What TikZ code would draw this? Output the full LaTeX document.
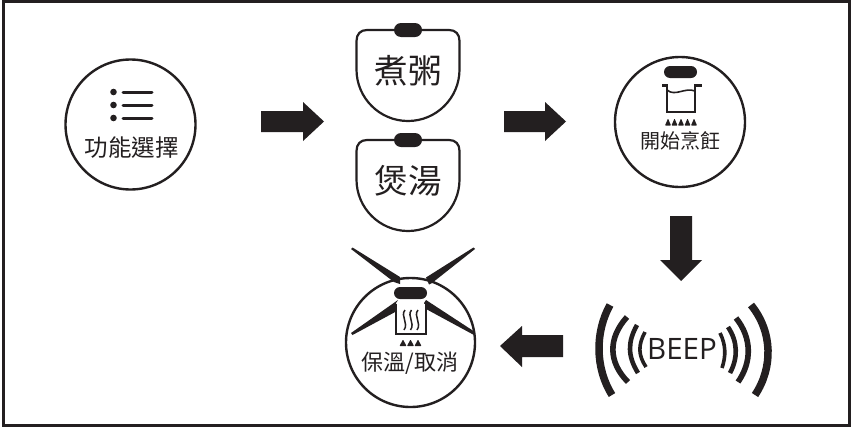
\documentclass[tikz,border=0pt]{standalone}
\usepackage{fontspec}
\setmainfont{Noto Sans CJK TC}
\newfontfamily\latinf{Open Sans}
\definecolor{ink}{HTML}{231F20}
\begin{document}
\begin{tikzpicture}[x=1pt,y=-1pt,
  disc/.style={draw=ink,line width=2.4pt,fill=white,circle,inner sep=0pt},
  fat/.style={fill=ink,draw=none},
  pillshape/.style={fill=ink,rounded corners=6pt},
  lab/.style={inner sep=0pt,text=ink,font=\fontsize{23.5}{24}\selectfont},
  big/.style={inner sep=0pt,text=ink,font=\fontsize{33.5}{34}\selectfont},
  wave/.style={draw=ink,line cap=butt},
  flame/.style={fill=ink,rounded corners=0.6pt}]
\useasboundingbox (0,0) rectangle (853,429);
\fill[white] (0,0) rectangle (853,429);
\draw[ink,line width=3pt] (3.5,1.5) rectangle (849.5,425.5);
% step 1
\node[disc,minimum size=130pt] (c1) at (130.5,124.5) {};
\foreach \y in {92,105,118}{
  \fill[ink] (113.5,\y) circle (3.3pt);
  \draw[ink,line width=3pt,line cap=round] (123,\y) -- (152,\y);}
\node[lab] (t1) at (131.5,148) {功能選擇};
% arrows
\path[fat] (261,111) -- (303,111) -- (303,102) -- (324,121.5) -- (303,141) -- (303,132) -- (261,132) -- cycle;
\path[fat] (504,111) -- (545,111) -- (545,102) -- (566,121.5) -- (545,141) -- (545,132) -- (504,132) -- cycle;
\path[fat] (670,216) -- (692,216) -- (692,260) -- (702,260) -- (681,281) -- (660,260) -- (670,260) -- cycle;
\path[fat] (563,335) -- (522,335) -- (522,326) -- (500,346) -- (522,367) -- (522,357) -- (563,357) -- cycle;
% shields
\foreach \t in {0,110}{
  \begin{scope}[yshift=-\t pt]
  \draw[ink,line width=2.2pt,fill=white] (408,30) -- (367,30) .. controls (360.5,30) and (356.5,34) .. (356.5,41) -- (356.5,69.5) .. controls (356.5,97.9) and (379.6,121) .. (408,121) .. controls (436.4,121) and (459.5,97.9) .. (459.5,69.5) -- (459.5,41) .. controls (459.5,34) and (455.5,30) .. (449,30) -- cycle;
  \fill[pillshape,rounded corners=7pt] (394,23) rectangle (422,37);
  \end{scope}}
\node[big] (s1) at (408,70.5) {煮粥};
\node[big] (s2) at (408,180.5) {煲湯};
% step 3
\node[disc,minimum size=130pt] (c3) at (680,122) {};
\fill[pillshape] (664,66) rectangle (697,78);
\draw[ink,line width=2.6pt] (662,85.5) -- (667,85.5) -- (667,112) -- (695,112) -- (695,85.5) -- (701.5,85.5);
\draw[ink,line width=1.6pt] (667,90) .. controls (675,97) and (685,87) .. (695,91);
\foreach \x in {668,674.5,681,687.5,694}
  \fill[flame] (\x,118.5) -- (\x-3,125.5) -- (\x+3,125.5) -- cycle;
\node[lab,font=\fontsize{20}{20}\selectfont] (t3) at (680,141) {開始烹飪};
% beep
\node[inner sep=0pt,text=ink,font=\latinf\fontsize{29.5}{30}\selectfont] (b) at (682,349) {BEEP};
\draw[wave,line width=3.6pt] (645,332) .. controls (638,345) and (638,355) .. (646,367);
\draw[wave,line width=4.6pt] (637,325) .. controls (627.5,342) and (627.5,356) .. (638,373);
\draw[wave,line width=5.6pt] (627,317) .. controls (608,338) and (608,362) .. (628,382);
\draw[wave,line width=7.5pt] (610,305) .. controls (595,332) and (595,368) .. (612,395);
\draw[wave,line width=3.6pt] (720,333) .. controls (726,345) and (726,356) .. (722,368);
\draw[wave,line width=4.6pt] (728,327) .. controls (738,342) and (738,358) .. (730,373);
\draw[wave,line width=5.6pt] (736,318) .. controls (752,338) and (752,362) .. (738,382);
\draw[wave,line width=7.5pt] (751,305) .. controls (773,332) and (773,368) .. (755,395);
% step 4
\node[disc,minimum size=129pt] (c4) at (410.5,342.5) {};
\fill[ink] (351,249) -- (352.5,247.5) -- (400,277) -- (400,284) -- (394,282) -- cycle;
\fill[ink] (475,249) -- (473.5,247.5) -- (426,277.5) -- (429,284.5) -- (432,283) -- cycle;
\fill[ink] (351,333) -- (352.5,335) -- (397,311) -- (396,303) -- (398,300) -- cycle;
\fill[ink] (475,332) -- (474,335) -- (426,309) -- (424,303) -- (426,300) -- cycle;
\fill[pillshape] (394,287) rectangle (427,299);
\draw[ink,line width=2.6pt,fill=white] (396,304) -- (396,334) -- (426,334) -- (426,304);
\foreach \x in {405,411.5,418}
  \draw[ink,line width=1.5pt] (\x,310) .. controls (\x-5,316) and (\x+4,323) .. (\x-1,330);
\foreach \x in {403,410.5,418}
  \fill[flame] (\x,339.5) -- (\x-3.5,346) -- (\x+3.5,346) -- cycle;
\node[lab,font=\fontsize{22}{22}\selectfont] (t4) at (410,363) {保溫/取消};
\end{tikzpicture}
\end{document}
